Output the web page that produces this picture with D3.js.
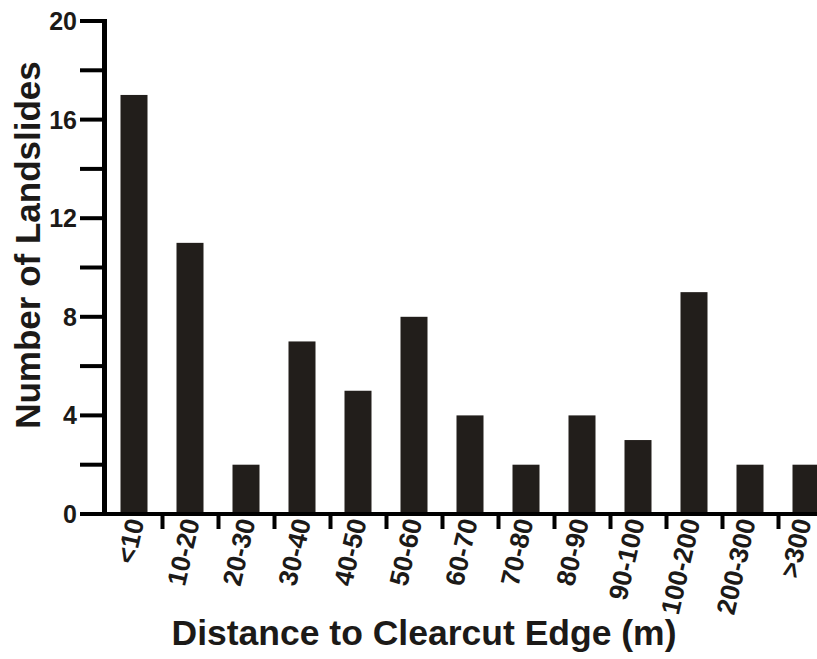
<!DOCTYPE html>
<html>
<head>
<meta charset="utf-8">
<script src="https://cdn.jsdelivr.net/npm/d3@7"></script>
<style>
  body { margin: 0; background: #fff; }
  svg { display: block; font-family: "Liberation Sans", Arial, sans-serif; }
</style>
</head>
<body>
<svg id="chart" width="817" height="659"></svg>
<script>
// Landslide counts per distance class
const categories = ['<10', '10-20', '20-30', '30-40', '40-50', '50-60', '60-70',
                    '70-80', '80-90', '90-100', '100-200', '200-300', '>300'];
const counts = [17, 11, 2, 7, 5, 8, 4, 2, 4, 3, 9, 2, 2];
const yTickValues = [0, 2, 4, 6, 8, 10, 12, 14, 16, 18, 20];
const yLabelValues = [0, 4, 8, 12, 16, 20];

const svg = d3.select('#chart');
const barColor = '#221e1b';
const textColor = '#1c1a18';

const x = d3.scaleBand()
    .domain(categories)
    .range([106, 106 + 56 * categories.length])
    .paddingInner(0.52)
    .paddingOuter(0.26);

const y = d3.scaleLinear()
    .domain([0, 20])
    .range([514, 21]);

// Bars
svg.append('g')
    .selectAll('rect')
    .data(categories)
    .join('rect')
    .attr('x', d => x(d) + x.bandwidth() / 2 - 13.5)
    .attr('width', 27)
    .attr('y', (d, i) => y(counts[i]))
    .attr('height', (d, i) => y(0) - y(counts[i]))
    .attr('fill', barColor);

// Y axis: line + ticks
const yAxis = svg.append('g');
yAxis.append('line')
    .attr('x1', 104.5).attr('x2', 104.5)
    .attr('y1', y(20) - 2).attr('y2', y(0) + 2)
    .attr('stroke', '#000').attr('stroke-width', 5);
yAxis.selectAll('line.tick')
    .data(yTickValues)
    .join('line')
    .attr('class', 'tick')
    .attr('x1', 80).attr('x2', 104)
    .attr('y1', d => y(d)).attr('y2', d => y(d))
    .attr('stroke', '#000').attr('stroke-width', 4);
yAxis.selectAll('text')
    .data(yLabelValues)
    .join('text')
    .attr('x', 77)
    .attr('y', d => y(d))
    .attr('dy', '0.36em')
    .attr('text-anchor', 'end')
    .attr('font-size', 25)
    .attr('font-weight', 'bold')
    .attr('fill', textColor)
    .text(d => d);

// X axis: baseline + ticks between bars
const xAxis = svg.append('g');
xAxis.append('line')
    .attr('x1', 80).attr('x2', 817)
    .attr('y1', y(0)).attr('y2', y(0))
    .attr('stroke', '#000').attr('stroke-width', 4);
xAxis.selectAll('line.tick')
    .data(categories.slice(0, -1))
    .join('line')
    .attr('class', 'tick')
    .attr('x1', d => x(d) + x.step() * 0.5 + x.bandwidth() / 2 + 0.5)
    .attr('x2', d => x(d) + x.step() * 0.5 + x.bandwidth() / 2 + 0.5)
    .attr('y1', y(0)).attr('y2', y(0) + 15)
    .attr('stroke', '#000').attr('stroke-width', 4);
xAxis.selectAll('text')
    .data(categories)
    .join('text')
    .attr('transform', (d, i) => `translate(${x(d) + x.bandwidth() / 2 + 1 - i * 0.4}, 519) rotate(-77)`)
    .attr('dy', '0.36em')
    .attr('text-anchor', 'end')
    .attr('font-size', 26.5)
    .attr('font-weight', 'bold')
    .attr('fill', textColor)
    .text(d => d);

// Axis titles
svg.append('text')
    .attr('x', 424)
    .attr('y', 645)
    .attr('text-anchor', 'middle')
    .attr('font-size', 35.5)
    .attr('font-weight', 'bold')
    .attr('fill', textColor)
    .text('Distance to Clearcut Edge (m)');

svg.append('text')
    .attr('transform', 'translate(40, 245) rotate(-90)')
    .attr('text-anchor', 'middle')
    .attr('font-size', 35)
    .attr('font-weight', 'bold')
    .attr('fill', textColor)
    .text('Number of Landslides');
</script>
</body>
</html>
